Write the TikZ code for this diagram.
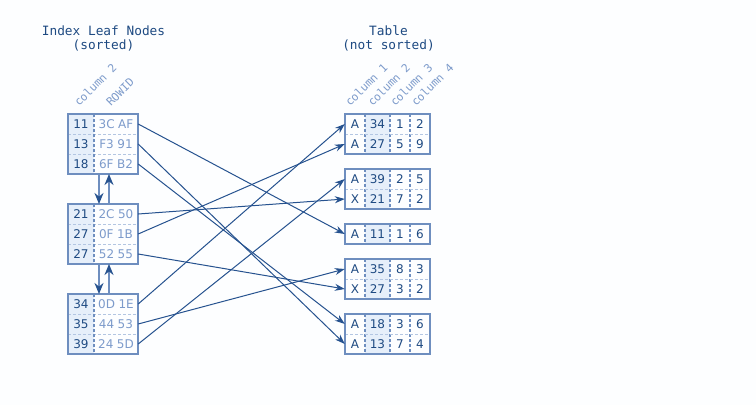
\documentclass[tikz,border=0pt]{standalone}
\usepackage{fontspec}
\setmainfont{DejaVu Sans}
\newfontfamily\monofont{DejaVu Sans Mono}
\usetikzlibrary{arrows.meta}
\definecolor{bg}{HTML}{FDFEFF}
\definecolor{border}{HTML}{6E8EBF}
\definecolor{dark}{HTML}{1E4A82}
\definecolor{light}{HTML}{7D9BCB}
\definecolor{shadeA}{HTML}{E6EFFA}
\definecolor{conn}{HTML}{26528F}
\definecolor{seplight}{HTML}{B3C6E2}
\tikzset{
  cell/.style={inner sep=0pt, font=\fontsize{12}{14}\selectfont, text=dark},
  rid/.style={cell, text=light},
  hdr/.style={inner sep=0pt, font=\monofont\fontsize{11.2}{13}\selectfont, text=light, rotate=45, anchor=base west},
  ttl/.style={inner sep=0pt, anchor=base, font=\monofont\fontsize{12.8}{16}\selectfont, text=dark},
  islot/.style={inner sep=0pt, minimum width=70pt, minimum height=20pt},
  tslot/.style={inner sep=0pt, minimum width=85pt, minimum height=20pt},
  boxline/.style={draw=border, line width=1.4pt},
  sepline/.style={draw=seplight, dash pattern=on 3pt off 2pt, line width=1pt},
  divline/.style={draw=border, dash pattern=on 3pt off 2pt, line width=1.2pt},
  link/.style={draw=conn, line width=1pt, -{Stealth[length=10pt,width=7pt]}},
  vert/.style={draw=border, line width=2pt, -{Stealth[length=11pt,width=9pt,color=conn]}}
}
\newcommand\rowid[2]{#1\hspace{3.5pt}#2}
% index block: #1 prefix, #2 top, then 3 x (num, rowid)
\newcommand\IxBlock[8]{%
  \fill[shadeA] (68,#2) rectangle (94,#2+60);
  \draw[sepline] (68,#2+20) -- (138,#2+20) (68,#2+40) -- (138,#2+40);
  \draw[divline] (94,#2) -- (94,#2+60);
  \draw[boxline] (68,#2) rectangle (138,#2+60);
  \node[islot] (#1a) at (103,#2+10) {};
  \node[islot] (#1b) at (103,#2+30) {};
  \node[islot] (#1c) at (103,#2+50) {};
  \node[cell] (#1an) at (81,#2+10) {#3};
  \node[rid]  (#1ar) at (116,#2+10) {#4};
  \node[cell] (#1bn) at (81,#2+30) {#5};
  \node[rid]  (#1br) at (116,#2+30) {#6};
  \node[cell] (#1cn) at (81,#2+50) {#7};
  \node[rid]  (#1cr) at (116,#2+50) {#8};
}
% table box frame: #1 top, #2 bottom
\newcommand\TBox[2]{%
  \fill[shadeA] (365,#1) rectangle (390,#2);
  \draw[divline] (365,#1) -- (365,#2) (390,#1) -- (390,#2) (410,#1) -- (410,#2);
}
\newcommand\TBorder[2]{\draw[boxline] (345,#1) rectangle (430,#2);}
% table row: #1 name, #2 center y, #3-#6 values
\newcommand\TRow[6]{%
  \node[tslot] (#1) at (387.5,#2) {};
  \node[cell] (#1p) at (355,#2) {#3};
  \node[cell] (#1q) at (377.5,#2) {#4};
  \node[cell] (#1r) at (400,#2) {#5};
  \node[cell] (#1s) at (420,#2) {#6};
}
\begin{document}
\begin{tikzpicture}[x=1pt,y=-1pt]
\fill[bg] (0,0) rectangle (756,405);
\useasboundingbox (0,0) rectangle (756,405);

% titles
\node[ttl] (t1) at (103.5,35) {Index Leaf Nodes};
\node[ttl] (t2) at (103.5,49.5) {(sorted)};
\node[ttl] (t3) at (388.5,35) {Table};
\node[ttl] (t4) at (388.5,49.5) {(not sorted)};

% headers
\node[hdr] (hc2) at (79,107) {column 2};
\node[hdr] (hrid) at (111,107) {ROWID};
\node[hdr] (hk1) at (350,107) {column 1};
\node[hdr] (hk2) at (372.5,107) {column 2};
\node[hdr] (hk3) at (395,107) {column 3};
\node[hdr] (hk4) at (416,107) {column 4};

% index blocks
\IxBlock{ia}{114}{11}{\rowid{3C}{AF}}{13}{\rowid{F3}{91}}{18}{\rowid{6F}{B2}}
\IxBlock{ib}{204}{21}{\rowid{2C}{50}}{27}{\rowid{0F}{1B}}{27}{\rowid{52}{55}}
\IxBlock{ic}{294}{34}{\rowid{0D}{1E}}{35}{\rowid{44}{53}}{39}{\rowid{24}{5D}}

% table
\TBox{114}{154}\draw[sepline] (345,134) -- (430,134);\TBorder{114}{154}
\TBox{169}{209}\draw[sepline] (345,189) -- (430,189);\TBorder{169}{209}
\TBox{224}{244}\TBorder{224}{244}
\TBox{259}{299}\draw[sepline] (345,279) -- (430,279);\TBorder{259}{299}
\TBox{314}{354}\draw[sepline] (345,334) -- (430,334);\TBorder{314}{354}

\TRow{ta}{124}{A}{34}{1}{2}
\TRow{tb}{144}{A}{27}{5}{9}
\TRow{tc}{179}{A}{39}{2}{5}
\TRow{td}{199}{X}{21}{7}{2}
\TRow{te}{234}{A}{11}{1}{6}
\TRow{tf}{269}{A}{35}{8}{3}
\TRow{tg}{289}{X}{27}{3}{2}
\TRow{th}{324}{A}{18}{3}{6}
\TRow{ti}{344}{A}{13}{7}{4}

% vertical links between index leaf nodes
\coordinate (d1s) at (99,174); \coordinate (d1e) at (99,204);
\coordinate (u1s) at (109,204); \coordinate (u1e) at (109,174);
\coordinate (d2s) at (99,264); \coordinate (d2e) at (99,294);
\coordinate (u2s) at (109,294); \coordinate (u2e) at (109,264);
\draw[vert] (d1s) -- (d1e);
\draw[vert] (u1s) -- (u1e);
\draw[vert] (d2s) -- (d2e);
\draw[vert] (u2s) -- (u2e);

% rowid links
\draw[link] (iaa.east) -- (te.west);
\draw[link] (iab.east) -- (ti.west);
\draw[link] (iac.east) -- (th.west);
\draw[link] (iba.east) -- (td.west);
\draw[link] (ibb.east) -- (tb.west);
\draw[link] (ibc.east) -- (tg.west);
\draw[link] (ica.east) -- (ta.west);
\draw[link] (icb.east) -- (tf.west);
\draw[link] (icc.east) -- (tc.west);
\end{tikzpicture}
\end{document}
